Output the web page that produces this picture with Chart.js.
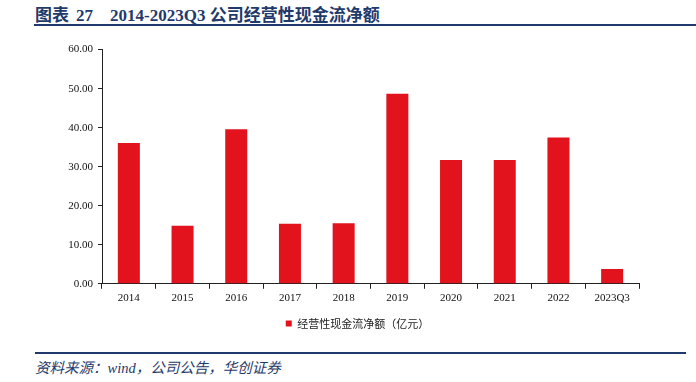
<!DOCTYPE html>
<html>
<head>
<meta charset="utf-8">
<script src="https://cdn.jsdelivr.net/npm/chart.js@4.4.1/dist/chart.umd.min.js"></script>
<style>
  body { margin: 0; width: 696px; height: 382px; background: #fff; position: relative; overflow: hidden; }
  .title {
    position: absolute; left: 35px; top: 1px;
    font: bold 17px "Liberation Serif", "Noto Sans CJK SC", serif;
    color: #1f3a6b; white-space: nowrap;
  }
  .title .num { margin-left: 7px; margin-right: 17px; }
  .rule-top { position: absolute; left: 34px; right: 0; top: 24px; height: 2px; background: #1f3a6b; }
  .rule-bottom { position: absolute; left: 35px; right: 10px; top: 352px; height: 2px; background: #1f3a6b; }
  .source {
    position: absolute; left: 35px; top: 356px;
    font: italic 14.5px "Liberation Serif", "Noto Sans CJK SC", serif;
    color: #1f3a6b; white-space: nowrap;
  }
  .chart-box { position: absolute; left: 0; top: 38px; width: 696px; height: 305px; }
</style>
</head>
<body>
<div class="title">图表<span class="num">27</span>2014-2023Q3 公司经营性现金流净额</div>
<div class="rule-top"></div>
<div class="chart-box"><canvas id="chart"></canvas></div>
<div class="rule-bottom"></div>
<div class="source">资料来源：wind，公司公告，华创证券</div>
<script>
const years = ['2014', '2015', '2016', '2017', '2018', '2019', '2020', '2021', '2022', '2023Q3'];
const cashFlow = [36.1, 14.9, 39.6, 15.4, 15.5, 48.7, 31.7, 31.7, 37.5, 3.8];
const seriesName = '经营性现金流净额（亿元）';

// legend in the original sits a bit right of centre and a touch lower
const legendShift = {
  id: 'legendShift',
  afterLayout(chart) {
    const lg = chart.legend;
    lg.left += 38; lg.right += 38;
    lg.top += 2; lg.bottom += 2;
  }
};

const ctx = document.getElementById('chart').getContext('2d');
new Chart(ctx, {
  type: 'bar',
  data: {
    labels: years,
    datasets: [{
      label: seriesName,
      data: cashFlow,
      backgroundColor: '#e3131e',
      borderWidth: 0,
      barPercentage: 0.41,
      categoryPercentage: 1
    }]
  },
  options: {
    responsive: true,
    maintainAspectRatio: false,
    animation: false,
    layout: { padding: { left: 0, right: 57, top: 8, bottom: 6 } },
    plugins: {
      tooltip: { enabled: false },
      legend: {
        position: 'bottom',
        labels: {
          boxWidth: 6, boxHeight: 6, padding: 8,
          color: '#222',
          font: { family: '"Noto Sans CJK SC", serif', size: 11 }
        }
      }
    },
    scales: {
      x: {
        grid: { display: true, drawOnChartArea: false, offset: true, tickLength: 5, color: '#222' },
        border: { display: true, color: '#222', width: 1 },
        ticks: { color: '#111', padding: 3, font: { family: '"Liberation Serif", serif', size: 11 } }
      },
      y: {
        min: 0, max: 60,
        afterFit: s => { s.width = 102; },
        grid: { display: true, drawOnChartArea: false, tickLength: 4, color: '#222' },
        border: { display: true, color: '#222', width: 1 },
        ticks: {
          stepSize: 10, color: '#111', padding: 5,
          font: { family: '"Liberation Serif", serif', size: 11 },
          callback: v => v.toFixed(2)
        }
      }
    }
  },
  plugins: [legendShift]
});
</script>
</body>
</html>
